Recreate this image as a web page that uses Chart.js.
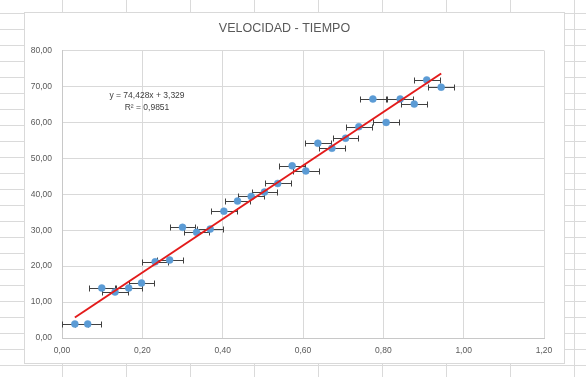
<!DOCTYPE html>
<html>
<head>
<meta charset="utf-8">
<script src="https://cdn.jsdelivr.net/npm/chart.js@4.4.1/dist/chart.umd.min.js"></script>
<style>
  html, body { margin: 0; padding: 0; }
  body {
    width: 586px; height: 377px; overflow: hidden; position: relative;
    background-color: #fff;
    background-image:
      linear-gradient(to bottom, #dadada 1px, transparent 1px),
      linear-gradient(to right, #dadada 1px, transparent 1px);
    background-size: 100% 16px, 64px 100%;
    background-position: 0 13px, 62px 0;
  }
  #frame {
    position: absolute; left: 24px; top: 12px;
    width: 539px; height: 350px;
    border: 1px solid #d9d9d9; background: #fff;
  }
  canvas { display: block; }
</style>
</head>
<body>
<div id="frame"><canvas id="scatter-chart" width="539" height="350"></canvas></div>
<script>
const titulo = "VELOCIDAD - TIEMPO"

// t (s) y v
const tiempo = [0.032, 0.064, 0.099, 0.132, 0.166, 0.198, 0.232, 0.268, 0.300, 0.335,
  0.369, 0.403, 0.437, 0.471, 0.504, 0.537, 0.573, 0.607, 0.637, 0.672,
  0.706, 0.739, 0.774, 0.807, 0.842, 0.877, 0.908, 0.944]
const velocidad = [3.9, 3.9, 13.9, 12.8, 13.9, 15.3, 21.2, 21.7, 30.8, 29.4,
  30.3, 35.3, 38.1, 39.4, 40.6, 43.0, 47.9, 46.5, 54.2, 52.8,
  55.6, 58.8, 66.5, 60.0, 66.5, 65.1, 71.8, 69.8]
const errorX = 0.032

// linea de tendencia (Excel)
const pendiente = 74.428
const intercepto = 3.329
const r2 = 0.9851

const xTicksMax = 1.2
const yTicksMax = 80

const fmt = (v) => v.toFixed(2).replace(".", ",")
const fmt3 = (v) => v.toFixed(3).replace(".", ",")

const puntos = tiempo.map((t, i) => ({ x: t, y: velocidad[i] }))
const tMin = Math.min(...tiempo)
const tMax = Math.max(...tiempo)
const tendencia = [
  { x: tMin, y: pendiente * tMin + intercepto },
  { x: tMax, y: pendiente * tMax + intercepto },
]

const textFont = "'Liberation Sans', Arial, sans-serif"

const errorBars = {
  id: "errorBars",
  beforeDatasetsDraw(chart) {
    const { ctx, scales } = chart
    const xs = scales.x, ys = scales.y
    ctx.save()
    ctx.strokeStyle = "#404040"
    ctx.lineWidth = 1
    puntos.forEach((p) => {
      const y = Math.round(ys.getPixelForValue(p.y)) + 0.5
      const x1 = Math.round(xs.getPixelForValue(p.x - errorX)) + 0.5
      const x2 = Math.round(xs.getPixelForValue(p.x + errorX)) + 0.5
      ctx.beginPath()
      ctx.moveTo(x1, y); ctx.lineTo(x2, y)
      ctx.moveTo(x1, y - 3); ctx.lineTo(x1, y + 3)
      ctx.moveTo(x2, y - 3); ctx.lineTo(x2, y + 3)
      ctx.stroke()
    })
    ctx.restore()
  },
}

const ecuacion = {
  id: "ecuacion",
  afterDraw(chart) {
    const { ctx } = chart
    ctx.save()
    ctx.fillStyle = "#404040"
    ctx.font = "8.5px " + textFont
    ctx.textAlign = "center"
    ctx.textBaseline = "middle"
    ctx.fillText("y = " + fmt3(pendiente) + "x + " + fmt3(intercepto), 122, 83)
    ctx.fillText("R\u00B2 = " + r2.toFixed(4).replace(".", ","), 122, 95)
    ctx.restore()
  },
}

const ctx = document.getElementById("scatter-chart")

const scatterChart = new Chart(ctx, {
  type: "scatter",
  data: {
    datasets: [
      {
        label: "Tendencia",
        type: "line",
        data: tendencia,
        borderColor: "#e31b1b",
        borderWidth: 2,
        pointRadius: 0,
        fill: false,
        order: 0,
      },
      {
        label: "Velocidad",
        data: puntos,
        backgroundColor: "#5b9bd5",
        borderColor: "#5b9bd5",
        borderWidth: 0.5,
        pointRadius: 3.5,
        order: 1,
      },
    ],
  },
  options: {
    responsive: false,
    animation: false,
    devicePixelRatio: 1,
    layout: { padding: { left: 0, right: 20, top: 0, bottom: 0 } },
    scales: {
      x: {
        type: "linear",
        min: 0,
        max: xTicksMax,
        afterFit: (s) => { s.height = 25 },
        grid: { color: "#d9d9d9", drawTicks: false },
        border: { color: "#c8c8c8" },
        ticks: {
          stepSize: 0.2,
          padding: 8,
          color: "#595959",
          font: { family: textFont, size: 8.5 },
          callback: (v) => fmt(v),
        },
      },
      y: {
        min: 0,
        max: yTicksMax,
        afterFit: (s) => { s.width = 37 },
        grid: { color: "#d9d9d9", drawTicks: false },
        border: { color: "#c8c8c8" },
        ticks: {
          stepSize: 10,
          padding: 10,
          color: "#595959",
          font: { family: textFont, size: 8.5 },
          callback: (v) => fmt(v),
        },
      },
    },
    plugins: {
      legend: { display: false },
      tooltip: { enabled: false },
      title: {
        display: true,
        text: titulo,
        color: "#595959",
        font: { family: textFont, size: 12.5, weight: "normal" },
        padding: { top: 8.5, bottom: 14 },
      },
    },
  },
  plugins: [errorBars, ecuacion],
})
</script>
</body>
</html>
